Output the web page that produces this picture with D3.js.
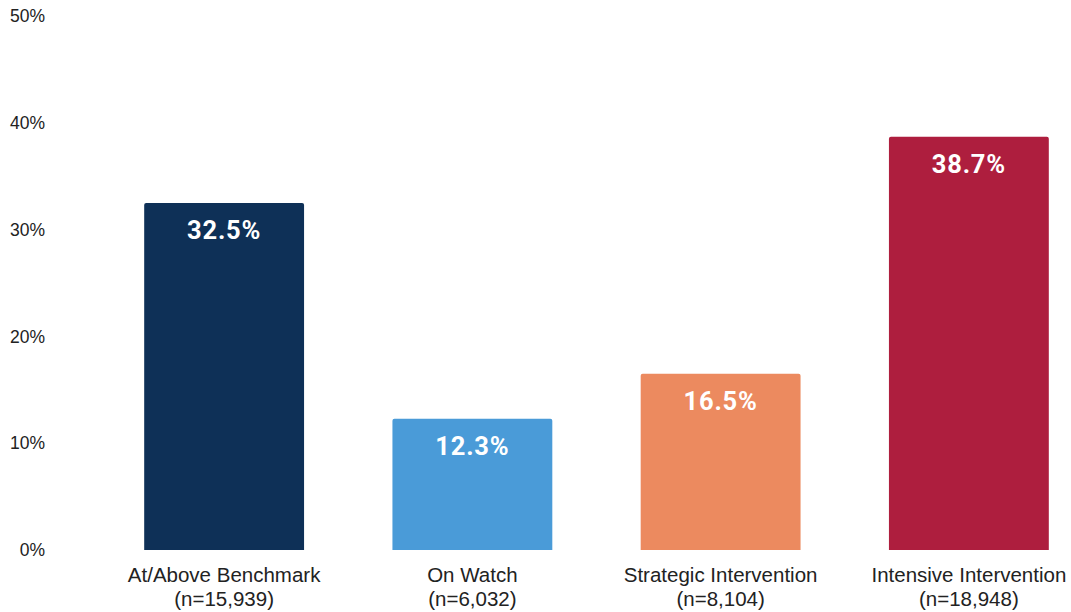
<!DOCTYPE html>
<html>
<head>
<meta charset="utf-8">
<script src="https://cdn.jsdelivr.net/npm/d3@7"></script>
<style>
  body { margin: 0; background: #fff; }
  svg { display: block; }
</style>
</head>
<body>
<script>
// chart data
var categories = ["At/Above Benchmark", "On Watch", "Strategic Intervention", "Intensive Intervention"];
var counts = ["n=15,939", "n=6,032", "n=8,104", "n=18,948"];
var values = [32.5, 12.3, 16.5, 38.7];
var colors = ["#0e3057", "#4a9bd8", "#ec8a5f", "#ae1e3e"];
var yTicks = [0, 10, 20, 30, 40, 50];

var width = 1071, height = 612;

var svg = d3.select("body").append("svg")
    .attr("width", width)
    .attr("height", height);

// scales
var x = d3.scaleBand()
    .domain(categories)
    .range([100, 1093])
    .paddingInner(0.356)
    .paddingOuter(0.178);

var y = d3.scaleLinear()
    .domain([0, 50])
    .range([550, 16]);

// y axis labels (no line)
var yAxis = svg.append("g")
    .attr("transform", "translate(45,0)")
    .call(d3.axisLeft(y).tickValues(yTicks).tickSize(0).tickPadding(0)
      .tickFormat(function(d) { return d + "%"; }));
yAxis.select(".domain").remove();
yAxis.selectAll("text")
    .attr("font-family", "'Liberation Sans', Arial, sans-serif")
    .attr("font-size", 17.5)
    .attr("fill", "#222");

var data = categories.map(function(c, i) {
  return {cat: c, n: counts[i], v: values[i], color: colors[i]};
});

// bars with slightly rounded top corners
function barPath(d) {
  var x0 = x(d.cat), w = x.bandwidth(), y0 = y(d.v), y1 = y(0), r = 2;
  return "M" + x0 + "," + y1 +
    "V" + (y0 + r) +
    "Q" + x0 + "," + y0 + " " + (x0 + r) + "," + y0 +
    "H" + (x0 + w - r) +
    "Q" + (x0 + w) + "," + y0 + " " + (x0 + w) + "," + (y0 + r) +
    "V" + y1 + "Z";
}

svg.selectAll(".bar")
    .data(data)
  .enter().append("path")
    .attr("class", "bar")
    .attr("d", barPath)
    .attr("fill", function(d) { return d.color; });

// value labels inside bars
svg.selectAll(".val")
    .data(data)
  .enter().append("text")
    .attr("class", "val")
    .attr("x", function(d) { return x(d.cat) + x.bandwidth() / 2; })
    .attr("y", function(d) { return y(d.v) + 36; })
    .attr("text-anchor", "middle")
    .attr("font-family", "Roboto, sans-serif")
    .attr("font-weight", "bold")
    .attr("font-size", 25.5)
    .attr("letter-spacing", 0.8)
    .attr("fill", "#fff")
    .text(function(d) { return d.v.toFixed(1) + "%"; });

// category labels
var lab = svg.selectAll(".cat")
    .data(data)
  .enter().append("text")
    .attr("class", "cat")
    .attr("text-anchor", "middle")
    .attr("font-family", "'Liberation Sans', Arial, sans-serif")
    .attr("font-size", 20.5)
    .attr("fill", "#222");

lab.append("tspan")
    .attr("x", function(d) { return x(d.cat) + x.bandwidth() / 2; })
    .attr("y", 582)
    .text(function(d) { return d.cat; });
lab.append("tspan")
    .attr("x", function(d) { return x(d.cat) + x.bandwidth() / 2; })
    .attr("y", 606)
    .text(function(d) { return "(" + d.n + ")"; });
</script>
</body>
</html>
